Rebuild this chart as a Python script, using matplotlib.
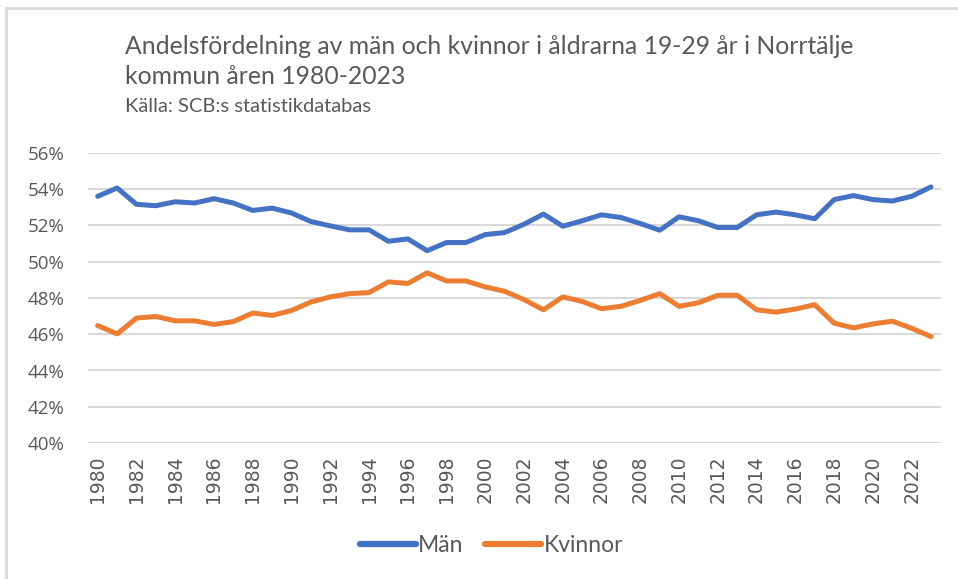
import numpy as np
import matplotlib
matplotlib.use("Agg")
from matplotlib import pyplot as plt
from matplotlib.lines import Line2D

# data (share in %)
years = list(range(1980, 2024))
man = [53.61, 54.07, 53.17, 53.09, 53.31, 53.24, 53.48, 53.24, 52.83, 52.96,
       52.69, 52.22, 51.98, 51.76, 51.76, 51.13, 51.26, 50.61, 51.06, 51.06,
       51.50, 51.61, 52.07, 52.63, 51.96, 52.26, 52.59, 52.44, 52.11, 51.74,
       52.48, 52.26, 51.89, 51.89, 52.59, 52.74, 52.59, 52.37, 53.43, 53.65,
       53.43, 53.35, 53.61, 54.13]
kvinnor = [46.48, 46.02, 46.89, 46.98, 46.74, 46.74, 46.54, 46.70, 47.17, 47.04,
           47.31, 47.78, 48.06, 48.24, 48.30, 48.89, 48.80, 49.39, 48.94, 48.94,
           48.61, 48.37, 47.91, 47.35, 48.06, 47.81, 47.41, 47.54, 47.87, 48.24,
           47.54, 47.74, 48.15, 48.15, 47.35, 47.22, 47.39, 47.63, 46.61, 46.35,
           46.57, 46.72, 46.33, 45.87]
y_ticks = [40, 42, 44, 46, 48, 50, 52, 54, 56]

title_1 = "Andelsfördelning av män och kvinnor i åldrarna 19-29 år i Norrtälje"
title_2 = "kommun åren 1980-2023"
source = "Källa: SCB:s statistikdatabas"

BLUE = "#4472C4"
ORANGE = "#ED7D31"
GREY = "#595959"

fig = plt.figure(figsize=(9.58, 5.79), dpi=100)
ax = fig.add_axes([88 / 958, 1 - 443 / 579, (940.7 - 88) / 958, (443 - 153) / 579])

ax.plot(years, man, color=BLUE, lw=3.6, solid_capstyle="round", solid_joinstyle="round", label="Män")
ax.plot(years, kvinnor, color=ORANGE, lw=3.6, solid_capstyle="round", solid_joinstyle="round", label="Kvinnor")

ax.set_xlim(1979.5, 2023.5)
ax.set_ylim(40, 56)
ax.set_yticks(y_ticks)
ax.set_yticklabels([f"{v}%" for v in y_ticks], fontsize=13.5, color=GREY, family="Open Sans")
ax.set_xticks(years[::2])
ax.set_xticklabels([str(y) for y in years[::2]], rotation=90, fontsize=13.5, color=GREY)
ax.tick_params(length=0)
ax.tick_params(axis="y", pad=17)
ax.tick_params(axis="x", pad=9)
ax.grid(axis="y", color="#D9D9D9", lw=1.5)
ax.set_axisbelow(True)
for s in ax.spines.values():
    s.set_visible(False)

fig.text(125 / 958, 1 - 46 / 579, title_1, ha="left", va="center", fontsize=17.8, color=GREY, family="Lato")
fig.text(125 / 958, 1 - 76 / 579, title_2, ha="left", va="center", fontsize=17.8, color=GREY, family="Lato")
fig.text(125 / 958, 1 - 107 / 579, source, ha="left", va="center", fontsize=14.5, color=GREY, family="Lato")

handles = [Line2D([0], [0], color=BLUE, lw=4.5, solid_capstyle="round"),
           Line2D([0], [0], color=ORANGE, lw=4.5, solid_capstyle="round")]
fig.legend(handles, ["Män", "Kvinnor"], loc="center", bbox_to_anchor=(0.513, 1 - 546 / 579), ncol=2,
           frameon=False, handlelength=2.45, handletextpad=0.1, columnspacing=0.95,
           prop={"family": "Lato", "size": 16.5}, labelcolor=GREY)

# outer chart border (only top/left visible in the reference)
fig.add_artist(Line2D([6 / 958, 6 / 958], [0, 1 - 8 / 579], color="#D9D9D9", lw=2, transform=fig.transFigure))
fig.add_artist(Line2D([6 / 958, 1], [1 - 8 / 579, 1 - 8 / 579], color="#D9D9D9", lw=2, transform=fig.transFigure))

fig.savefig("out.png", dpi=100, facecolor="white")
